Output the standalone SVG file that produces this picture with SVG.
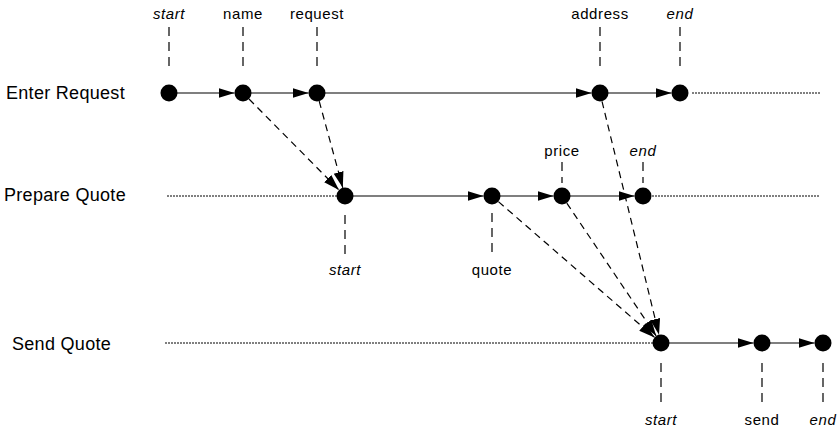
<svg xmlns="http://www.w3.org/2000/svg" width="840" height="429" viewBox="0 0 840 429">
<style>
.bg{fill:#fff}
.dot{fill:#000}
.tick{stroke:#000;stroke-width:1.2;stroke-dasharray:9,6;fill:none}
.lbl{font-family:"Liberation Sans",Arial,sans-serif;font-size:15px;letter-spacing:0.6px;fill:#000;text-anchor:middle}
.it{font-style:italic}
.lane{font-family:"Liberation Sans",Arial,sans-serif;font-size:18px;letter-spacing:0.3px;fill:#000}
.dotted{stroke:#000;stroke-width:1;stroke-dasharray:2,1;fill:none}
.flow{stroke:#000;stroke-width:1.2;fill:none;marker-end:url(#ah)}
.msg{stroke:#000;stroke-width:1.2;stroke-dasharray:7,5;fill:none;marker-end:url(#ah)}
</style>
<defs>
<marker id="ah" markerUnits="userSpaceOnUse" markerWidth="17" markerHeight="11" refX="16" refY="5" orient="auto">
<path d="M0,0 L16,5 L0,10 z" fill="#000"/>
</marker>
</defs>
<rect class="bg" x="0" y="0" width="840" height="429"/>

<g id="lane-enter-request">
<text class="lane" x="6" y="99">Enter Request</text>
<line class="dotted" x1="692" y1="93" x2="820" y2="93"/>
</g>
<g id="lane-prepare-quote">
<text class="lane" x="4" y="201">Prepare Quote</text>
<line class="dotted" x1="167" y1="196" x2="337" y2="196"/>
<line class="dotted" x1="652" y1="196" x2="820" y2="196"/>
</g>
<g id="lane-send-quote">
<text class="lane" x="12" y="350">Send Quote</text>
<line class="dotted" x1="165" y1="343" x2="653" y2="343"/>
</g>

<g id="connectors">
<line class="flow" x1="177" y1="93" x2="234.5" y2="93"/>
<line class="flow" x1="251" y1="93" x2="308.5" y2="93"/>
<line class="flow" x1="325" y1="93" x2="591.5" y2="93"/>
<line class="flow" x1="608" y1="93" x2="671.5" y2="93"/>
<line class="flow" x1="353" y1="196" x2="483.5" y2="196"/>
<line class="flow" x1="500" y1="196" x2="553.5" y2="196"/>
<line class="flow" x1="570" y1="196" x2="634.5" y2="196"/>
<line class="flow" x1="669" y1="343" x2="753.5" y2="343"/>
<line class="flow" x1="770" y1="343" x2="814.5" y2="343"/>
<line class="msg" x1="249" y1="99" x2="339" y2="190"/>
<line class="msg" x1="319.2" y1="101.2" x2="342.8" y2="187.8"/>
<line class="msg" x1="602" y1="101.3" x2="659" y2="334.7"/>
<line class="msg" x1="498.4" y1="201.6" x2="654.6" y2="337.4"/>
<line class="msg" x1="566.8" y1="203.1" x2="656.2" y2="335.9"/>
</g>

<g id="er-start">
<line class="tick" x1="169" y1="27" x2="169" y2="68"/>
<text class="lbl it" x="169" y="19">start</text>
<circle class="dot" cx="169" cy="93" r="8.5"/>
</g>
<g id="er-name">
<line class="tick" x1="243" y1="27" x2="243" y2="68"/>
<text class="lbl" x="243" y="19">name</text>
<circle class="dot" cx="243" cy="93" r="8.5"/>
</g>
<g id="er-request">
<line class="tick" x1="317" y1="27" x2="317" y2="68"/>
<text class="lbl" x="317" y="19">request</text>
<circle class="dot" cx="317" cy="93" r="8.5"/>
</g>
<g id="er-address">
<line class="tick" x1="600" y1="27" x2="600" y2="68"/>
<text class="lbl" x="600" y="19">address</text>
<circle class="dot" cx="600" cy="93" r="8.5"/>
</g>
<g id="er-end">
<line class="tick" x1="680" y1="27" x2="680" y2="68"/>
<text class="lbl it" x="680" y="19">end</text>
<circle class="dot" cx="680" cy="93" r="8.5"/>
</g>

<g id="pq-start">
<line class="tick" x1="345" y1="215" x2="345" y2="257"/>
<text class="lbl it" x="345" y="275">start</text>
<circle class="dot" cx="345" cy="196" r="8.5"/>
</g>
<g id="pq-quote">
<line class="tick" x1="492" y1="213" x2="492" y2="255"/>
<text class="lbl" x="492" y="275">quote</text>
<circle class="dot" cx="492" cy="196" r="8.5"/>
</g>
<g id="pq-price">
<line class="tick" x1="562" y1="162" x2="562" y2="183"/>
<text class="lbl" x="562" y="156">price</text>
<circle class="dot" cx="562" cy="196" r="8.5"/>
</g>
<g id="pq-end">
<line class="tick" x1="643" y1="162" x2="643" y2="183"/>
<text class="lbl it" x="643" y="156">end</text>
<circle class="dot" cx="643" cy="196" r="8.5"/>
</g>

<g id="sq-start">
<line class="tick" x1="661" y1="363" x2="661" y2="405"/>
<text class="lbl it" x="661" y="425">start</text>
<circle class="dot" cx="661" cy="343" r="8.5"/>
</g>
<g id="sq-send">
<line class="tick" x1="762" y1="363" x2="762" y2="405"/>
<text class="lbl" x="762" y="425">send</text>
<circle class="dot" cx="762" cy="343" r="8.5"/>
</g>
<g id="sq-end">
<line class="tick" x1="823" y1="363" x2="823" y2="405"/>
<text class="lbl it" x="823" y="425">end</text>
<circle class="dot" cx="823" cy="343" r="8.5"/>
</g>
</svg>
